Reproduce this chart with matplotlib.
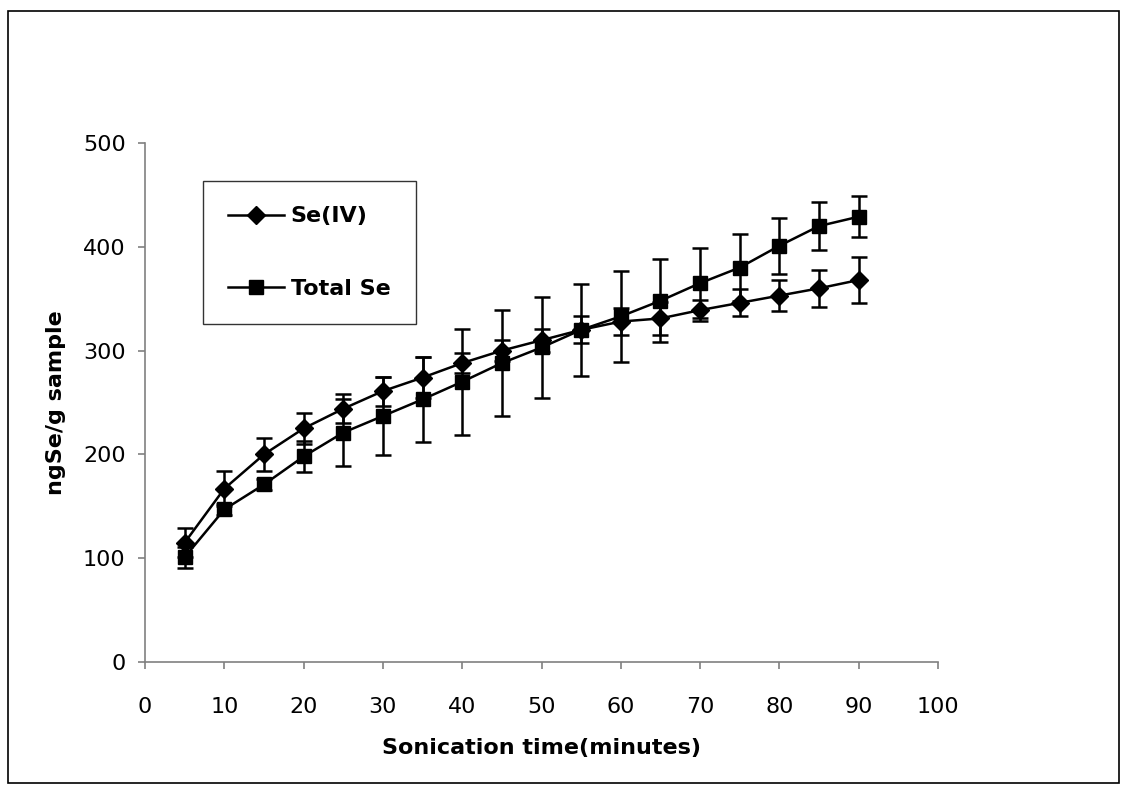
import matplotlib.pyplot as plt
from matplotlib.patches import Rectangle

# sonication time (minutes)
time_min = [5, 10, 15, 20, 25, 30, 35, 40, 45, 50, 55, 60, 65, 70, 75, 80, 85, 90]

se_iv = [115, 167, 200, 225, 244, 261, 274, 288, 300, 310, 320, 328, 331, 339, 346, 353, 360, 368]
se_iv_err = [14, 17, 16, 15, 14, 14, 20, 10, 10, 11, 13, 13, 16, 10, 13, 15, 18, 22]

total_se = [101, 147, 171, 198, 221, 237, 253, 270, 288, 303, 320, 333, 348, 365, 380, 401, 420, 429]
total_err = [10, 5, 5, 15, 32, 38, 41, 51, 51, 49, 44, 44, 40, 34, 32, 27, 23, 20]

fig = plt.figure(figsize=(11.27, 7.91), dpi=100)
ax = fig.add_axes([0.1287, 0.1631, 0.7036, 0.6561])

lw = 1.8
ebkw = dict(fmt='none', ecolor='black', capsize=5.5, capthick=lw, elinewidth=lw)
ax.errorbar(time_min, se_iv, yerr=se_iv_err, **ebkw)
ax.errorbar(time_min, total_se, yerr=total_err, **ebkw)
ax.plot(time_min, se_iv, color='black', lw=lw, marker='D', ms=9.5, label='Se(IV)')
ax.plot(time_min, total_se, color='black', lw=lw, marker='s', ms=10.5, label='Total Se')

ax.set_xlim(0, 100)
ax.set_ylim(0, 500)
ax.set_xticks(range(0, 101, 10))
ax.set_yticks(range(0, 501, 100))
for s in ['top', 'right']:
    ax.spines[s].set_visible(False)
for s in ['left', 'bottom']:
    ax.spines[s].set_color('#808080')
    ax.spines[s].set_linewidth(1.2)
ax.tick_params(direction='out', length=5, width=1.2, color='#808080', labelsize=16)
ax.tick_params(axis='x', pad=20)
ax.tick_params(axis='y', pad=9)

ax.set_xlabel('Sonication time(minutes)', fontsize=16, fontweight='bold', labelpad=15)
ax.set_ylabel('ngSe/g sample', fontsize=16, fontweight='bold', labelpad=12)

leg = ax.legend(loc='upper left', bbox_to_anchor=(0.073, 0.927), borderaxespad=0,
                frameon=True, fancybox=False, edgecolor='black', labelspacing=2.35,
                handlelength=2.5, handletextpad=0.3, borderpad=1.15,
                prop={'weight': 'bold', 'size': 16})
leg.get_frame().set_linewidth(1.0)

# outer border of the chart area
fig.patches.append(Rectangle((0.007, 0.01), 0.986, 0.976, transform=fig.transFigure,
                             fill=False, edgecolor='black', lw=1.2))

fig.savefig('out.png', dpi=100)
